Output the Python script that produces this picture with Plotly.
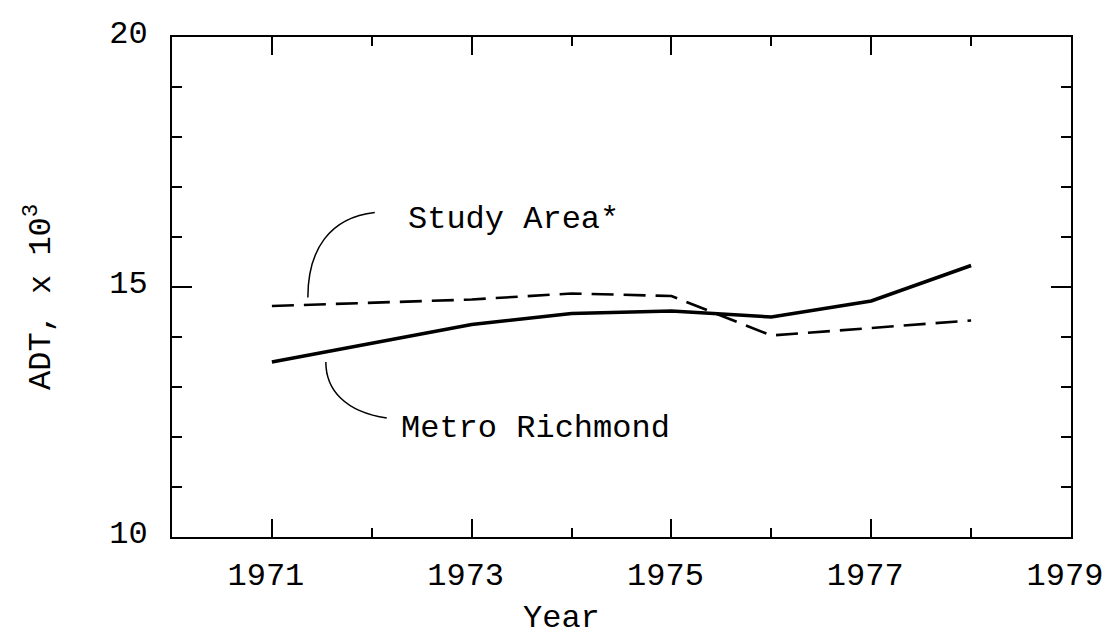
import plotly.graph_objects as go

years = [1971, 1972, 1973, 1974, 1975, 1976, 1977, 1978]
study_area = [14.62, 14.69, 14.75, 14.87, 14.82, 14.03, 14.18, 14.33]
metro_richmond = [13.50, 13.87, 14.25, 14.47, 14.52, 14.40, 14.72, 15.43]

x_tickvals = [1971, 1973, 1975, 1977, 1979]
x_ticklabels = ["1971", "1973", "1975", "1977", "1979"]
y_tickvals = [10, 15, 20]

label_study = "Study Area*"
label_metro = "Metro Richmond"
x_title = "Year"
y_title = "ADT, x 10<sup>3</sup>"

FONT = "Liberation Mono, Courier New, monospace"
FS = 32

fig = go.Figure()
fig.add_trace(go.Scatter(x=years, y=study_area, mode="lines",
                         line=dict(color="black", width=2.6, dash="22px,10px"),
                         showlegend=False))
fig.add_trace(go.Scatter(x=years, y=metro_richmond, mode="lines",
                         line=dict(color="black", width=3.6),
                         showlegend=False))

# leader curves (data coordinates)
fig.add_shape(type="path", xref="x", yref="y",
              path="M 1971.36 14.79 C 1971.36 15.75, 1971.58 16.39, 1972.03 16.49",
              line=dict(color="black", width=1.5))
fig.add_shape(type="path", xref="x", yref="y",
              path="M 1971.54 13.50 C 1971.54 12.95, 1971.73 12.50, 1972.15 12.38",
              line=dict(color="black", width=1.5))

fig.add_annotation(x=1972.34, y=16.36, xref="x", yref="y", text=label_study,
                   showarrow=False, xanchor="left", yanchor="middle",
                   font=dict(family=FONT, size=FS, color="black"))
fig.add_annotation(x=1972.27, y=12.18, xref="x", yref="y", text=label_metro,
                   showarrow=False, xanchor="left", yanchor="middle",
                   font=dict(family=FONT, size=FS, color="black"))

fig.add_annotation(x=(561 - 172) / 899, y=(537 - 618) / 500, xref="paper", yref="paper",
                   text=x_title, showarrow=False, xanchor="center", yanchor="middle",
                   font=dict(family=FONT, size=FS, color="black"))
fig.add_annotation(x=(39 - 172) / 899, y=(537 - 297) / 500, xref="paper", yref="paper",
                   text=y_title, showarrow=False, xanchor="center", yanchor="middle",
                   textangle=-90,
                   font=dict(family=FONT, size=FS, color="black"))

fig.update_xaxes(range=[1970, 1979], tickmode="array", tickvals=x_tickvals,
                 ticktext=x_ticklabels, ticklabelshift=-6,
                 ticks="inside", ticklen=18, tickwidth=1.6, tickcolor="black",
                 minor=dict(tickmode="linear", tick0=1970, dtick=1, ticks="inside",
                            ticklen=9, tickwidth=1.6, tickcolor="black"),
                 showline=True, linecolor="black", linewidth=2, mirror="ticks",
                 showgrid=False, zeroline=False, ticklabelstandoff=8,
                 ticklabeloverflow="allow", automargin=False,
                 tickfont=dict(family=FONT, size=FS, color="black"))
fig.update_yaxes(range=[10, 20], tickmode="array", tickvals=y_tickvals,
                 ticks="inside", ticklen=20, tickwidth=1.6, tickcolor="black",
                 minor=dict(tickmode="linear", tick0=10, dtick=1, ticks="inside",
                            ticklen=10, tickwidth=1.6, tickcolor="black"),
                 showline=True, linecolor="black", linewidth=2, mirror="ticks",
                 showgrid=False, zeroline=False, ticklabelstandoff=16,
                 ticklabelshift=-5,
                 ticklabeloverflow="allow", automargin=False,
                 tickfont=dict(family=FONT, size=FS, color="black"))

fig.update_layout(width=1107, height=639, autosize=False,
                  margin=dict(l=172, r=36, t=37, b=102),
                  paper_bgcolor="white", plot_bgcolor="white")

fig.write_html("out.html")
